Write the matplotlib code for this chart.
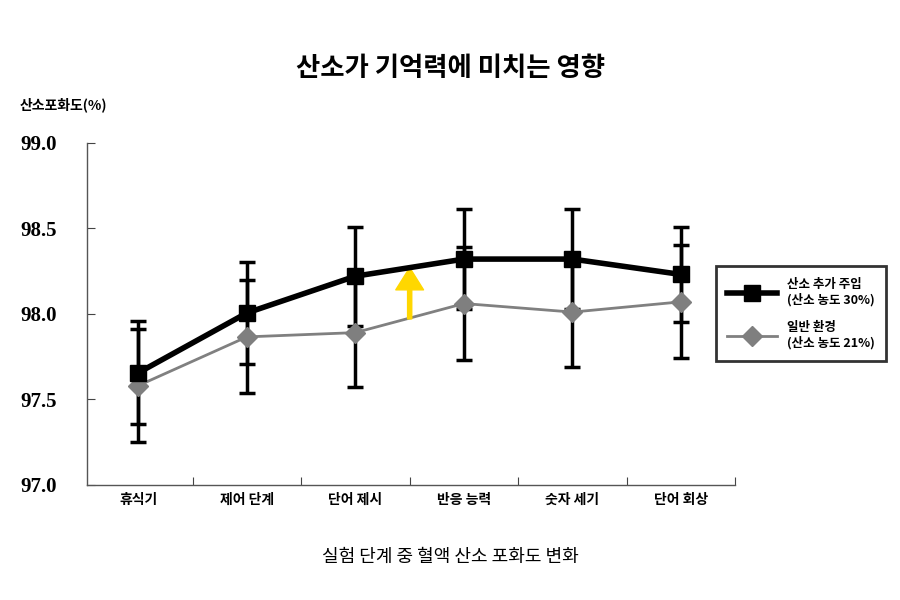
import matplotlib
matplotlib.use("Agg")
import matplotlib.pyplot as plt
from matplotlib import font_manager

categories = ["휴식기", "제어 단계", "단어 제시", "반응 능력", "숫자 세기", "단어 회상"]
o2_mean = [97.655, 98.005, 98.22, 98.32, 98.32, 98.23]
o2_err = [0.30, 0.30, 0.29, 0.29, 0.29, 0.28]
air_mean = [97.58, 97.865, 97.89, 98.06, 98.01, 98.07]
air_err = [0.33, 0.33, 0.32, 0.33, 0.32, 0.33]
yticks = [97.0, 97.5, 98.0, 98.5, 99.0]

avail = {f.name for f in font_manager.fontManager.ttflist}
cjk = [n for n in ["Noto Sans CJK KR", "Noto Sans CJK JP", "Noto Sans CJK SC", "Noto Sans CJK TC"] if n in avail]
plt.rcParams["font.family"] = cjk + ["DejaVu Sans"]

fig = plt.figure(figsize=(9, 6), dpi=100)
ax = fig.add_axes([0.097, 0.192, 0.72, 0.57])
x = list(range(len(categories)))

ax.errorbar(x, air_mean, yerr=air_err, fmt="none", ecolor="black", elinewidth=2.5, capsize=6, capthick=2.5, zorder=2)
ax.errorbar(x, o2_mean, yerr=o2_err, fmt="none", ecolor="black", elinewidth=2.5, capsize=6, capthick=2.5, zorder=2)
ax.plot(x, air_mean, color="#808080", lw=2, marker="D", ms=10, mfc="#7f7f7f", mec="#7f7f7f",
        label="일반 환경\n(산소 농도 21%)", zorder=3)
ax.plot(x, o2_mean, color="black", lw=4, marker="s", ms=12, label="산소 추가 주입\n(산소 농도 30%)", zorder=4)

ax.annotate("", xy=(2.5, 98.27), xytext=(2.5, 97.97),
            arrowprops=dict(facecolor="#FFD700", edgecolor="#FFD700", width=3, headwidth=20, headlength=16))

ax.set_xlim(-0.47, 5.5)
ax.set_ylim(97.0, 99.0)
ax.set_yticks(yticks)
ax.set_yticklabels([f"{v:.1f}" for v in yticks], fontfamily="Liberation Serif", fontweight="bold", fontsize=15)
ax.set_xticks([i + 0.5 for i in range(6)], minor=False)
ax.set_xticklabels([])
ax.set_xticks(x, minor=True)
ax.set_xticklabels(categories, minor=True, fontsize=10, fontweight="bold")
ax.tick_params(axis="x", which="minor", length=0, pad=6)
ax.tick_params(axis="x", which="major", direction="in", length=6, color="#444444")
ax.tick_params(axis="y", direction="in", length=6, color="#444444", pad=22)
for s in ["top", "right"]:
    ax.spines[s].set_visible(False)
for s in ["left", "bottom"]:
    ax.spines[s].set_color("#555555")
    ax.spines[s].set_linewidth(1)

handles, labels = ax.get_legend_handles_labels()
leg = ax.legend(handles[::-1], labels[::-1], loc="center left", bbox_to_anchor=(0.96, 0.5),
                frameon=True, fancybox=False, edgecolor="black", prop={"weight": "bold", "size": 9},
                handlelength=4, labelspacing=1.2, borderpad=0.9)
leg.get_frame().set_linewidth(2)

fig.text(0.5, 0.885, "산소가 기억력에 미치는 영향", ha="center", va="center", fontsize=19, fontweight="bold")
fig.text(0.022, 0.825, "산소포화도(%)", ha="left", va="center", fontsize=10, fontweight="bold")
fig.text(0.5, 0.072, "실험 단계 중 혈액 산소 포화도 변화", ha="center", va="center", fontsize=13)

fig.savefig("out.png", dpi=100)
